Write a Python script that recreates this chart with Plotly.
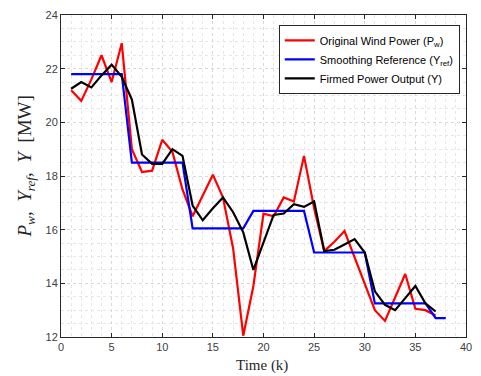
import plotly.graph_objects as go

k_red = list(range(1, 38))
p_w = [21.2, 20.8, 21.6, 22.5, 21.5, 22.95, 19.0, 18.15, 18.2, 19.35,
       18.9, 17.5, 16.5, 17.3, 18.05, 17.2, 15.3, 12.05, 13.9, 16.6,
       16.5, 17.2, 17.05, 18.75, 16.8, 15.2, 15.55, 15.95, 14.95, 13.95,
       13.0, 12.6, 13.5, 14.35, 13.05, 13.0, 12.8]

k_blue = list(range(1, 39))
y_ref = [21.8] * 6 + [18.5] * 6 + [16.05] * 6 + [16.7] * 6 + [15.15] * 6 + [13.25] * 6 + [12.7] * 2

k_black = list(range(1, 38))
y_out = [21.25, 21.5, 21.3, 21.75, 22.15, 21.7, 20.85, 18.8, 18.45, 18.45,
         19.0, 18.75, 16.9, 16.35, 16.8, 17.2, 16.65, 15.9, 14.5, 15.5,
         16.55, 16.6, 16.95, 16.85, 17.05, 15.2, 15.25, 15.45, 15.65, 15.15,
         13.7, 13.2, 13.0, 13.45, 13.9, 13.25, 12.95]

names = ["Original Wind Power (P<sub>w</sub>)",
         "Smoothing Reference (Y<sub>ref</sub>)",
         "Firmed Power Output (Y)"]
colors = ["#ff0000", "#0000ff", "#000000"]

fig = go.Figure()
for xs, ys, nm, c in [(k_red, p_w, names[0], colors[0]),
                      (k_blue, y_ref, names[1], colors[1]),
                      (k_black, y_out, names[2], colors[2])]:
    fig.add_trace(go.Scatter(x=xs, y=ys, mode="lines", name=nm,
                             line=dict(color=c, width=2.2)))

W, H = 481, 376
L, R, T, B = 61, 9, 13, 39
pw = W - L - R
ph = H - T - B

axis_common = dict(
    showline=True, linecolor="#262626", linewidth=1, mirror="ticks",
    ticks="inside", ticklen=4, tickcolor="#262626",
    showgrid=True, gridcolor="#d9d9d9", gridwidth=1, griddash="dot",
    zeroline=False,
    tickfont=dict(family="Liberation Sans, Arial", size=11, color="#404040"),
)

fig.update_layout(
    width=W, height=H,
    margin=dict(l=L, r=R, t=T, b=B),
    paper_bgcolor="white", plot_bgcolor="white",
    showlegend=True,
    legend=dict(
        x=(282 - L) / pw, y=1 - (23 - T) / ph, xanchor="left", yanchor="top",
        bgcolor="white", bordercolor="#262626", borderwidth=1,
        font=dict(family="Liberation Sans, Arial", size=11, color="#000000"),
        tracegroupgap=0, itemwidth=30,
    ),
    xaxis=dict(range=[0, 40], dtick=5, tick0=0,
               minor=dict(dtick=1, showgrid=True, gridcolor="#e6e6e6", griddash="dot", ticks=""),
               **axis_common),
    yaxis=dict(range=[12, 24], dtick=2, tick0=12,
               minor=dict(dtick=0.5, showgrid=True, gridcolor="#e6e6e6", griddash="dot", ticks=""),
               **axis_common),
    annotations=[
        dict(text="Time (k)", xref="paper", yref="paper",
             x=(265 - L) / pw, y=-(366 - (T + ph)) / ph, xanchor="center", yanchor="middle",
             showarrow=False, font=dict(family="Liberation Serif, Times New Roman", size=15, color="#262626")),
        dict(text="<i>P<sub>w</sub></i>,&nbsp;&nbsp;<i>Y<sub>ref</sub></i>,&nbsp;&nbsp;<i>Y</i>&nbsp;&nbsp;[MW]",
             xref="paper", yref="paper",
             x=-(L - 26) / pw, y=(T + ph - 166) / ph, xanchor="center", yanchor="middle",
             textangle=-90, showarrow=False,
             font=dict(family="Liberation Serif, Times New Roman", size=19, color="#262626")),
    ],
)

fig.write_html("out.html")
